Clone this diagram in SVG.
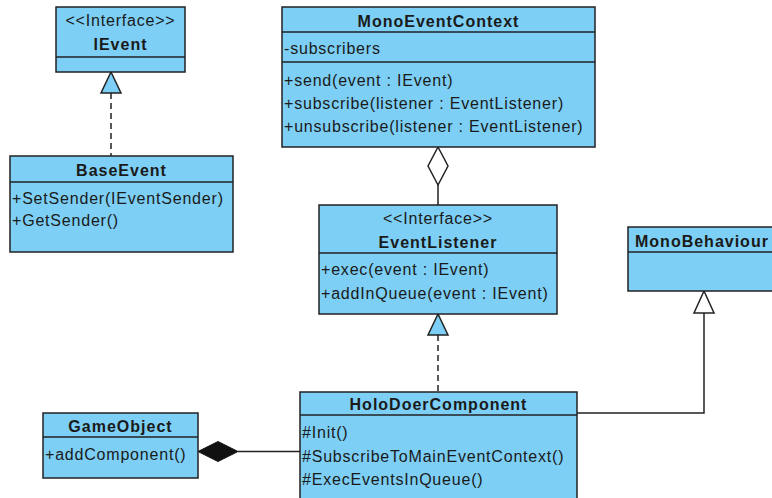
<svg xmlns="http://www.w3.org/2000/svg" width="772" height="498" viewBox="0 0 772 498">
  <style>
    .box { fill: #7dcff5; stroke: #222; stroke-width: 1.5; }
    .sep { stroke: #222; stroke-width: 1.5; fill: none; }
    .t { font-family: "Liberation Sans", Arial, sans-serif; font-size: 16px; fill: #1a1a1a; letter-spacing: 0.8px; }
    .b { font-weight: bold; letter-spacing: 1px; }
    .c { text-anchor: middle; }
    .ln { stroke: #222; stroke-width: 1.5; fill: none; }
    .dash { stroke-dasharray: 6 4; }
  </style>
  <rect width="772" height="498" fill="#ffffff"/>

  <g id="connectors">
    <!-- BaseEvent realizes IEvent -->
    <line class="ln dash" x1="111" y1="93" x2="111" y2="156"/>
    <polygon points="111,72 121,93 101,93" fill="#7dcff5" stroke="#222" stroke-width="1.5"/>
    <!-- MonoEventContext aggregates EventListener -->
    <line class="ln" x1="438" y1="185" x2="438" y2="205"/>
    <polygon points="438,147 448,166 438,185 428,166" fill="#ffffff" stroke="#222" stroke-width="1.5"/>
    <!-- HoloDoerComponent realizes EventListener -->
    <line class="ln dash" x1="438" y1="335" x2="438" y2="392"/>
    <polygon points="438,314 448,335 428,335" fill="#7dcff5" stroke="#222" stroke-width="1.5"/>
    <!-- HoloDoerComponent extends MonoBehaviour -->
    <polyline class="ln" points="577,413 704,413 704,313"/>
    <polygon points="704,291 714,313 694,313" fill="#ffffff" stroke="#222" stroke-width="1.5"/>
    <!-- GameObject composes HoloDoerComponent -->
    <line class="ln" x1="238" y1="451.5" x2="300" y2="451.5"/>
    <polygon points="198,451.5 218,441.5 238,451.5 218,461.5" fill="#111" stroke="#111" stroke-width="1"/>
  </g>

  <g id="IEvent">
    <rect class="box" x="56" y="7" width="129" height="65"/>
    <line class="sep" x1="56" y1="57" x2="185" y2="57"/>
    <text class="t c" x="120.5" y="26">&lt;&lt;Interface&gt;&gt;</text>
    <text class="t b c" x="120.5" y="50">IEvent</text>
  </g>

  <g id="BaseEvent">
    <rect class="box" x="10" y="156" width="223" height="96"/>
    <line class="sep" x1="10" y1="182" x2="233" y2="182"/>
    <text class="t b c" x="121.5" y="176">BaseEvent</text>
    <text class="t" x="12" y="204">+SetSender(IEventSender)</text>
    <text class="t" x="12" y="226">+GetSender()</text>
  </g>

  <g id="MonoEventContext">
    <rect class="box" x="282" y="7" width="313" height="140"/>
    <line class="sep" x1="282" y1="32" x2="595" y2="32"/>
    <line class="sep" x1="282" y1="62" x2="595" y2="62"/>
    <text class="t b c" x="438.5" y="27">MonoEventContext</text>
    <text class="t" x="284" y="54">-subscribers</text>
    <text class="t" x="284" y="86">+send(event : IEvent)</text>
    <text class="t" x="284" y="109">+subscribe(listener : EventListener)</text>
    <text class="t" x="284" y="132">+unsubscribe(listener : EventListener)</text>
  </g>

  <g id="EventListener">
    <rect class="box" x="319" y="205" width="238" height="109"/>
    <line class="sep" x1="319" y1="253" x2="557" y2="253"/>
    <text class="t c" x="438" y="224">&lt;&lt;Interface&gt;&gt;</text>
    <text class="t b c" x="438" y="248">EventListener</text>
    <text class="t" x="321" y="275">+exec(event : IEvent)</text>
    <text class="t" x="321" y="299">+addInQueue(event : IEvent)</text>
  </g>

  <g id="MonoBehaviour">
    <rect class="box" x="628" y="227" width="150" height="64"/>
    <line class="sep" x1="628" y1="252" x2="778" y2="252"/>
    <text class="t b" x="635" y="247">MonoBehaviour</text>
  </g>

  <g id="HoloDoerComponent">
    <rect class="box" x="300" y="392" width="277" height="112"/>
    <line class="sep" x1="300" y1="415" x2="577" y2="415"/>
    <text class="t b c" x="438.5" y="410">HoloDoerComponent</text>
    <text class="t" x="302" y="438">#Init()</text>
    <text class="t" x="302" y="462">#SubscribeToMainEventContext()</text>
    <text class="t" x="302" y="485">#ExecEventsInQueue()</text>
  </g>

  <g id="GameObject">
    <rect class="box" x="43" y="413" width="155" height="65"/>
    <line class="sep" x1="43" y1="437" x2="198" y2="437"/>
    <text class="t b c" x="120.5" y="432">GameObject</text>
    <text class="t" x="45" y="460">+addComponent()</text>
  </g>
</svg>
